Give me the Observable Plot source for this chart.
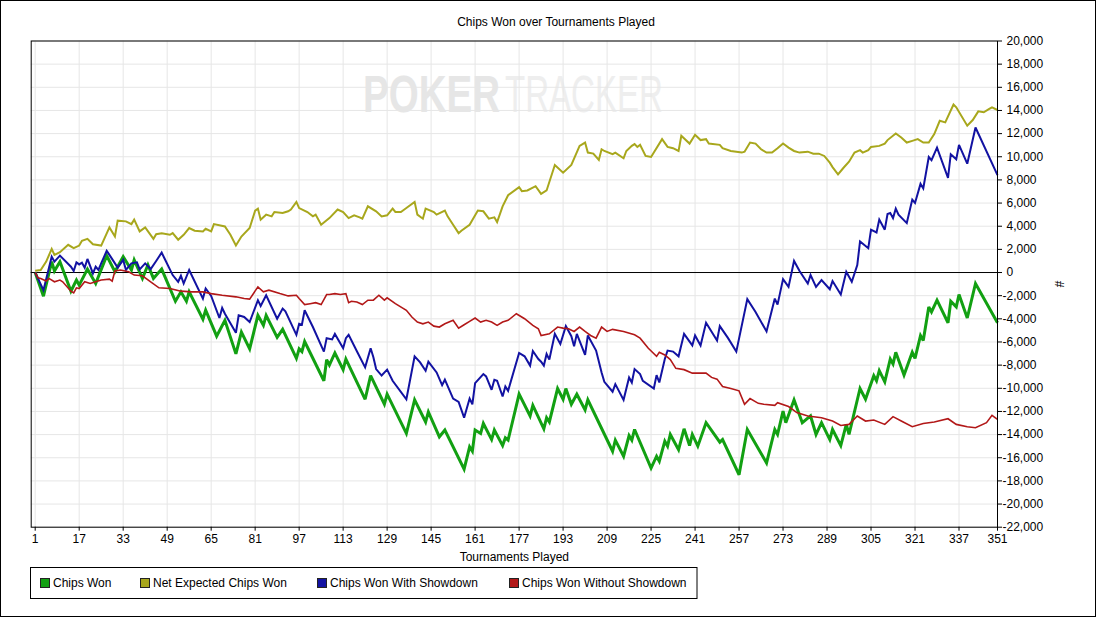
<!DOCTYPE html>
<html><head><meta charset="utf-8">
<script src="https://cdn.jsdelivr.net/npm/d3@7"></script>
<script src="https://cdn.jsdelivr.net/npm/@observablehq/plot@0.6"></script>
<style>html,body{margin:0;padding:0;background:#fff;overflow:hidden}</style>
</head><body><div id="chart"></div>
<script>
// [tournament, chips] vertices
const chipsWon = [[1,0],[4,-2040],[7,940],[8,130],[10,940],[14,-1610],[16,-650],[17,-1090],[20,300],[23,-950],[27,1460],[30,70],[33,1370],[36,220],[37,1090],[40,-510],[42,650],[44,-510],[47,300],[52,-2480],[54,-1670],[56,-2480],[57,-1670],[62,-4040],[63,-3260],[67,-5500],[70,-4130],[74,-7030],[76,-5150],[79,-6600],[82,-3700],[84,-4560],[85,-3700],[89,-5600],[91,-4910],[96,-7410],[97,-6600],[98,-6830],[99,-5960],[106,-9350],[107,-7520],[108,-7990],[110,-6950],[113,-8390],[114,-7470],[121,-10950],[123,-8910],[128,-11380],[129,-10510],[136,-13900],[139,-11000],[143,-12910],[144,-12040],[148,-14190],[150,-13610],[157,-16980],[159,-15060],[160,-15440],[161,-13610],[163,-13900],[164,-13040],[167,-14430],[168,-13610],[171,-14950],[172,-14280],[173,-14480],[177,-10510],[181,-12390],[182,-11470],[186,-13500],[187,-12540],[188,-12910],[191,-10020],[193,-10950],[194,-10020],[196,-11380],[198,-10510],[201,-11870],[202,-11000],[211,-15440],[212,-14480],[215,-15870],[217,-14080],[218,-14480],[219,-13560],[225,-16890],[227,-15870],[228,-16300],[230,-14570],[231,-15000],[232,-13990],[235,-15300],[237,-13500],[239,-14950],[240,-13990],[242,-15000],[245,-12970],[250,-14650],[251,-14430],[257,-17470],[260,-13560],[267,-16450],[270,-13560],[271,-13990],[273,-11960],[274,-12970],[277,-11000],[280,-12970],[283,-12390],[285,-13990],[287,-12970],[290,-14430],[291,-13560],[294,-14950],[296,-13120],[297,-13990],[301,-10020],[303,-10950],[306,-8910],[307,-9350],[308,-8480],[310,-9440],[312,-7470],[313,-7900],[314,-6890],[317,-8860],[320,-6890],[321,-7410],[323,-5440],[324,-5870],[326,-2970],[327,-3410],[329,-2390],[333,-4340],[334,-2480],[336,-2970],[337,-1900],[340,-3930],[343,-950],[351,-4340]];

const netExpected = [[1,160],[3,220],[5,940],[7,2040],[8,1520],[10,1750],[13,2390],[15,2100],[17,2330],[18,2740],[20,2910],[22,2440],[25,2330],[28,3900],[30,3110],[31,4480],[34,4420],[36,4180],[37,4570],[39,3550],[41,3900],[44,2910],[45,3310],[47,3400],[50,3260],[51,3400],[53,2830],[55,3260],[57,3840],[59,3610],[62,3550],[63,3780],[65,3550],[66,4180],[70,3980],[72,3260],[74,2330],[76,3110],[79,3840],[81,5350],[82,5520],[83,4570],[85,5000],[87,4850],[88,5230],[91,5140],[93,5290],[94,5440],[96,6100],[97,5570],[100,5230],[102,4850],[103,5000],[105,4130],[108,4700],[111,5440],[113,5230],[115,4700],[117,4940],[119,4770],[120,4650],[122,5720],[125,5290],[127,4850],[129,4940],[131,5520],[132,5230],[134,5230],[136,5570],[139,6100],[140,5000],[142,4650],[143,5520],[146,5230],[147,5000],[150,5350],[151,4850],[153,4130],[155,3400],[156,3610],[159,4130],[162,5350],[164,5290],[166,4650],[168,4770],[169,4360],[171,5720],[173,6680],[177,7370],[178,7030],[180,7090],[183,7460],[185,6790],[187,7090],[190,9290],[193,8620],[196,9290],[199,10940],[201,11230],[202,10360],[204,10270],[206,9720],[207,10650],[208,10500],[211,10220],[212,10360],[215,9870],[216,10500],[218,10940],[219,11090],[220,10850],[221,11030],[223,10070],[225,9980],[229,11520],[231,10850],[233,10740],[235,10500],[236,11810],[239,11140],[241,11900],[243,11440],[245,11520],[246,11140],[250,11030],[251,10740],[254,10500],[258,10360],[259,10440],[261,11230],[263,11140],[265,10650],[267,10360],[269,10360],[271,10740],[273,11140],[275,10790],[277,10500],[279,10360],[282,10440],[284,10270],[286,10270],[288,10070],[290,9490],[291,9110],[293,8480],[295,9050],[297,9570],[299,10360],[301,10570],[302,10360],[304,10570],[305,10850],[308,10940],[310,11140],[311,11440],[314,12010],[316,11660],[318,11230],[320,11370],[322,11520],[324,11230],[326,11230],[328,11960],[330,13110],[332,12970],[335,14510],[336,14270],[340,12680],[342,13170],[344,13920],[346,13840],[348,14130],[349,14270],[351,14040]];

const withShowdown = [[1,0],[4,-1520],[7,1370],[8,940],[10,1460],[14,500],[15,130],[16,880],[17,700],[18,850],[19,420],[20,1170],[22,-80],[23,500],[24,220],[25,790],[27,1870],[28,1520],[31,420],[33,1090],[34,220],[36,790],[38,880],[39,270],[41,790],[43,300],[45,1000],[47,1720],[48,1230],[51,-220],[53,-800],[54,-280],[55,-950],[57,220],[62,-2250],[63,-1380],[65,-2020],[68,-3930],[69,-3060],[70,-3560],[74,-5210],[75,-3700],[77,-3840],[79,-4280],[82,-2390],[83,-2890],[85,-1960],[89,-3990],[91,-3120],[92,-3350],[96,-5380],[97,-4430],[98,-4510],[99,-3260],[102,-4710],[106,-6830],[107,-5670],[109,-5780],[110,-5300],[113,-6540],[114,-5670],[115,-5380],[118,-6800],[121,-8190],[123,-6540],[124,-7320],[125,-8340],[127,-8900],[129,-8390],[131,-9350],[136,-10950],[139,-7240],[141,-7760],[143,-8480],[144,-7700],[147,-8630],[149,-9730],[150,-9260],[153,-10890],[155,-11170],[157,-12540],[159,-10890],[160,-11380],[161,-9560],[164,-8770],[165,-8970],[167,-10130],[168,-9260],[169,-9350],[171,-10710],[172,-9840],[173,-10220],[177,-6950],[179,-7240],[181,-8040],[182,-6780],[184,-7470],[185,-7700],[186,-8040],[187,-7035],[188,-7520],[190,-5300],[192,-6170],[194,-4630],[196,-5500],[197,-6370],[198,-5300],[201,-7120],[202,-5440],[205,-6740],[207,-8630],[208,-9440],[211,-10300],[212,-9640],[215,-11000],[217,-9060],[218,-9500],[219,-8340],[221,-8770],[222,-9350],[226,-10020],[227,-8860],[228,-9500],[230,-7470],[231,-6740],[233,-6830],[235,-7240],[237,-5300],[240,-6300],[241,-5440],[243,-6300],[245,-4340],[249,-5870],[250,-4630],[253,-5670],[256,-6830],[260,-2300],[263,-3410],[267,-5090],[270,-2250],[271,-2770],[273,-570],[275,-1240],[277,1000],[279,130],[282,-950],[283,-220],[285,-1240],[287,-650],[290,-1440],[291,-740],[294,-1900],[296,70],[298,-800],[300,650],[301,2680],[304,2100],[305,3700],[307,3460],[308,4570],[310,3700],[311,5050],[312,5140],[313,4700],[314,5520],[315,5000],[318,4270],[320,6300],[321,6010],[323,7660],[324,7260],[326,9980],[327,9700],[329,10790],[333,8180],[334,10220],[336,9780],[337,11030],[340,9400],[343,12530],[351,8420]];

const withoutShowdown = [[1,0],[2,-450],[3,-510],[5,-740],[6,-510],[8,-800],[10,-650],[11,-800],[14,-1610],[15,-1760],[16,-1320],[17,-1380],[19,-800],[21,-950],[23,-800],[25,-650],[28,-570],[29,-740],[30,130],[32,220],[35,70],[37,-220],[40,-280],[43,-800],[46,-1320],[50,-1380],[54,-1610],[58,-1670],[62,-1670],[65,-1820],[69,-1960],[74,-2100],[77,-2250],[79,-2300],[82,-1240],[84,-1670],[86,-1520],[90,-1820],[93,-2020],[96,-1960],[97,-2250],[99,-2770],[101,-2690],[103,-2600],[105,-2770],[107,-1900],[108,-1900],[110,-1820],[112,-1900],[114,-1820],[115,-2600],[116,-2480],[118,-2540],[120,-2770],[122,-2390],[124,-2390],[126,-1960],[128,-2390],[129,-2190],[132,-2690],[136,-3260],[138,-3840],[140,-4280],[142,-4430],[144,-4280],[146,-4630],[148,-4710],[150,-4430],[153,-4130],[155,-4800],[157,-4510],[159,-4220],[161,-3930],[163,-4280],[165,-4130],[167,-4280],[169,-4570],[171,-4280],[173,-4130],[176,-3560],[179,-3990],[182,-4570],[184,-4860],[185,-5440],[188,-5300],[191,-4710],[193,-4800],[195,-4860],[197,-5090],[199,-4710],[201,-5090],[203,-5440],[205,-5670],[207,-4710],[209,-5090],[211,-4910],[215,-5090],[219,-5380],[221,-5670],[224,-6540],[227,-7240],[228,-6890],[230,-7120],[232,-7520],[234,-8280],[237,-8390],[240,-8690],[245,-8690],[247,-9060],[249,-9210],[251,-9840],[254,-10020],[257,-10220],[259,-11380],[261,-10890],[264,-11300],[266,-11380],[270,-11470],[271,-11240],[275,-11580],[278,-12100],[282,-12390],[287,-12540],[291,-12830],[294,-13210],[297,-13120],[300,-12390],[303,-12830],[306,-12740],[310,-13120],[313,-12450],[316,-12830],[320,-13320],[324,-13040],[328,-12910],[333,-12630],[336,-13120],[340,-13320],[343,-13410],[347,-12970],[349,-12340],[351,-12690]];

const xTicks = [1,17,33,49,65,81,97,113,129,145,161,177,193,209,225,241,257,273,289,305,321,337,351];
const yTicks = [20000,18000,16000,14000,12000,10000,8000,6000,4000,2000,0,-2000,-4000,-6000,-8000,-10000,-12000,-14000,-16000,-18000,-20000,-22000];
const seriesNames = ["Chips Won","Net Expected Chips Won","Chips Won With Showdown","Chips Won Without Showdown"];
const seriesColors = ["#12a012","#a8a71c","#1212a2","#b21818"];
const seriesWidths = [3, 2, 2, 1.6];
const series = [chipsWon, netExpected, withShowdown, withoutShowdown];

const fmt = v => (v < 0 ? "-" : "") + d3.format(",")(Math.abs(v));
const FONT = "'Liberation Sans', Arial, sans-serif";

const plot = Plot.plot({
  width: 1096,
  height: 617,
  marginLeft: 30.7,
  marginRight: 99,
  marginTop: 40.5,
  marginBottom: 90.3,
  style: {fontFamily: FONT, fontSize: "12px", background: "white", color: "black", overflow: "visible"},
  x: {domain: [-0.455, 351], axis: null},
  y: {domain: [-22000, 20000], axis: null},
  marks: [
    Plot.ruleX(xTicks, {x: d => d, stroke: "#e6e6e6", strokeWidth: 1}),
    Plot.ruleY(yTicks, {y: d => d, stroke: "#e6e6e6", strokeWidth: 1}),
    Plot.ruleY([0], {stroke: "black", strokeWidth: 1}),
    ...series.map((s, i) => Plot.line(s, {
      x: d => d[0], y: d => d[1],
      stroke: seriesColors[i], strokeWidth: seriesWidths[i],
      strokeLinejoin: "miter", strokeMiterlimit: 3, strokeLinecap: "butt"
    })),
    Plot.frame({stroke: "black", strokeWidth: 1}),
    Plot.axisX({ticks: xTicks, tickSize: 4, tickPadding: 3, tickFormat: d => String(d), label: null, fontSize: 12}),
    Plot.axisY({anchor: "right", ticks: yTicks, tickSize: 4, tickFormat: () => "", label: null}),
    Plot.text(yTicks.filter(v => v >= 0), {x: () => 351, y: d => d, text: fmt, textAnchor: "start", dx: 9, fontSize: 12}),
    Plot.text(yTicks.filter(v => v < 0), {x: () => 351, y: d => d, text: fmt, textAnchor: "start", dx: 5, fontSize: 12}),
    Plot.text(["Tournaments Played"], {frameAnchor: "bottom", text: d => d, dy: 30, lineAnchor: "middle", fontSize: 12})
  ]
});

document.getElementById("chart").appendChild(plot);
const svg = d3.select(plot);

// watermark (beneath everything); squeezed horizontally with a transform
const wm = svg.insert("g", "g").attr("font-family", FONT).attr("font-size", 52).attr("text-anchor", "start");
function squeezed(text, x, width, weight, fill) {
  const t = wm.append("text").attr("x", 0).attr("y", 0).attr("text-anchor", "start")
    .attr("font-weight", weight).attr("fill", fill).text(text);
  const natural = t.node().getComputedTextLength() || width;
  t.attr("transform", `translate(${x},112) scale(${width / natural},1)`);
}
squeezed("POKER", 363, 137, "bold", "#e6e6e6");
squeezed("TRACKER", 505, 158, "normal", "#eeeeee");

// outer border
svg.append("rect").attr("x", 0.5).attr("y", 0.5).attr("width", 1095).attr("height", 616)
  .attr("fill", "none").attr("stroke", "black");

// title
svg.append("text").attr("x", 556).attr("y", 26).attr("text-anchor", "middle")
  .attr("font-family", FONT).attr("font-size", 12).text("Chips Won over Tournaments Played");

// y axis label
svg.append("text").attr("transform", "translate(1058,284) rotate(90)").attr("text-anchor", "middle")
  .attr("dominant-baseline", "middle").attr("font-family", FONT).attr("font-size", 12).text("#");

// legend
const lg = svg.append("g").attr("font-family", FONT).attr("font-size", 12).attr("text-anchor", "start");
lg.append("rect").attr("x", 30.5).attr("y", 567.5).attr("width", 666.5).attr("height", 31)
  .attr("fill", "white").attr("stroke", "black");
const legendX = [40, 140, 317, 509];
seriesNames.forEach((name, i) => {
  lg.append("rect").attr("x", legendX[i] + 0.5).attr("y", 578.5).attr("width", 9).attr("height", 9)
    .attr("fill", seriesColors[i]).attr("stroke", "#222");
  lg.append("text").attr("x", legendX[i] + 13).attr("y", 587).attr("text-anchor", "start").text(name);
});
</script></body></html>
